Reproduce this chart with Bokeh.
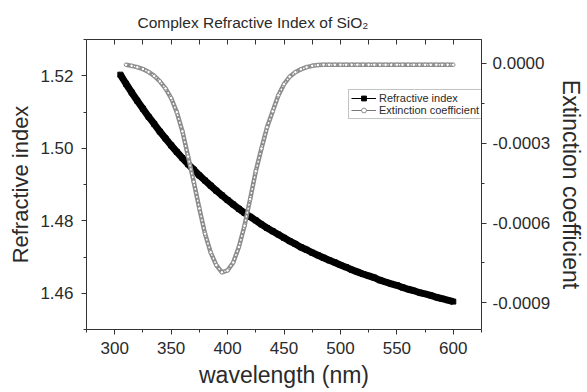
from bokeh.plotting import figure
from bokeh.models import (Range1d, LinearAxis, SingleIntervalTicker, PrintfTickFormatter,
                          Legend, LegendItem, CustomJSTickFormatter)
from bokeh.embed import file_html
from bokeh.resources import INLINE

# ---- data ----
wl_n = list(range(305, 601, 5))
n_vals = [1.5203, 1.5178, 1.5154, 1.5131, 1.5109, 1.5087, 1.5067, 1.5046, 1.5027, 1.5008,
          1.4990, 1.4973, 1.4956, 1.4941, 1.4925, 1.4911, 1.4897, 1.4883, 1.4870, 1.4857,
          1.4845, 1.4833, 1.4822, 1.4811, 1.4801, 1.4790, 1.4780, 1.4771, 1.4762, 1.4753,
          1.4744, 1.4736, 1.4727, 1.4720, 1.4712, 1.4705, 1.4698, 1.4691, 1.4685, 1.4678,
          1.4672, 1.4665, 1.4659, 1.4653, 1.4648, 1.4643, 1.4636, 1.4631, 1.4626, 1.4622,
          1.4616, 1.4611, 1.4607, 1.4602, 1.4598, 1.4594, 1.4589, 1.4585, 1.4581, 1.4577]

wl_k = list(range(310, 601, 5))
k_vals = [-5e-6, -9e-6, -14e-6, -21e-6, -32e-6, -47e-6, -67e-6, -94e-6, -130e-6, -183e-6,
          -255e-6, -350e-6, -445e-6, -545e-6, -640e-6, -710e-6, -758e-6, -785e-6, -778e-6, -748e-6,
          -690e-6, -610e-6, -510e-6, -405e-6, -320e-6, -240e-6, -180e-6, -120e-6, -78e-6, -50e-6,
          -33e-6, -22e-6, -14e-6, -9e-6, -6e-6, -5e-6,
          -5e-6, -5e-6, -5e-6, -5e-6, -5e-6, -5e-6, -5e-6, -5e-6, -5e-6, -5e-6, -5e-6, -5e-6,
          -5e-6, -5e-6, -5e-6, -5e-6, -5e-6, -5e-6, -5e-6, -5e-6, -5e-6, -5e-6, -5e-6]

title_text = "Complex Refractive Index of SiO\u2082"
x_label = "wavelength (nm)"
y_label = "Refractive index"
y2_label = "Extinction coefficient"
series_names = ["Refractive index", "Extinction coefficient"]

FONT = "Liberation Sans"
TXT = "#2a2a2a"
AX = "#333333"

p = figure(width=587, height=392, output_backend="svg", toolbar_location=None,
           x_range=Range1d(275, 625), y_range=Range1d(1.45, 1.53),
           min_border_left=86, min_border_right=106, min_border_top=39, min_border_bottom=63)
p.extra_y_ranges = {"k": Range1d(-0.001, 0.00009)}
p.background_fill_color = "white"
p.border_fill_color = "white"
p.outline_line_color = None
p.xgrid.visible = False
p.ygrid.visible = False

# title
p.title.text = title_text
p.title.text_font = FONT
p.title.text_font_size = "15.5px"
p.title.text_font_style = "normal"
p.title.text_color = TXT
p.title.align = "left"
p.title.offset = 51
p.title.standoff = 17


def style_axis(ax, label_size="23px"):
    ax.axis_line_color = AX
    ax.axis_line_width = 1
    ax.major_tick_line_color = AX
    ax.minor_tick_line_color = AX
    ax.major_label_text_font = FONT
    ax.major_label_text_font_size = "17px"
    ax.major_label_text_color = TXT
    ax.axis_label_text_font = FONT
    ax.axis_label_text_font_size = label_size
    ax.axis_label_text_font_style = "normal"
    ax.axis_label_text_color = TXT
    ax.major_tick_out = 5
    ax.major_tick_in = 0
    ax.minor_tick_out = 3
    ax.minor_tick_in = 0
    ax.major_label_standoff = 4


# bottom axis
xa = p.xaxis[0]
xa.ticker = SingleIntervalTicker(interval=50, num_minor_ticks=2)
xa.axis_label = x_label
style_axis(xa)
xa.major_label_standoff = 7
xa.axis_label_standoff = 5

# left axis
ya = p.yaxis[0]
ya.ticker = SingleIntervalTicker(interval=0.02, num_minor_ticks=2)
ya.formatter = PrintfTickFormatter(format="%.2f")
ya.axis_label = y_label
style_axis(ya, label_size="22px")
ya.major_label_standoff = 8
ya.axis_label_standoff = 4

# right axis
ra = LinearAxis(y_range_name="k", axis_label=y2_label,
                ticker=SingleIntervalTicker(interval=0.0003, num_minor_ticks=2),
                formatter=PrintfTickFormatter(format="%.4f"))
style_axis(ra)
ra.major_label_standoff = 6
ra.axis_label_standoff = 5
p.add_layout(ra, "right")

# top axis (ticks only, pointing inwards)
ta = LinearAxis(ticker=SingleIntervalTicker(interval=25, num_minor_ticks=0),
                formatter=CustomJSTickFormatter(code="return ''"))
style_axis(ta)
ta.major_tick_in = 5
ta.major_tick_out = 0
ta.major_label_standoff = 0
p.add_layout(ta, "above")

# refractive index
n_thin = p.line(wl_n, n_vals, line_color="black", line_width=1)
p.line(wl_n, n_vals, line_color="black", line_width=7)
n_sq = p.scatter(wl_n, n_vals, marker="square", size=5, fill_color="black", line_color="black")

# extinction coefficient
k_thin = p.line(wl_k, k_vals, line_color="#777777", line_width=1, y_range_name="k")
p.line(wl_k, k_vals, line_color="#8c8c8c", line_width=4.5, y_range_name="k")
p.line(wl_k, k_vals, line_color="white", line_width=1.4, line_dash="2 2", y_range_name="k")
k_c = p.scatter(wl_k, k_vals, marker="circle", size=3.5, fill_color="white",
                line_color="#8c8c8c", line_width=1, y_range_name="k")

legend = Legend(items=[LegendItem(label=series_names[0], renderers=[n_thin, n_sq]),
                       LegendItem(label=series_names[1], renderers=[k_thin, k_c])],
                location=(262, 210))
legend.label_text_font = FONT
legend.label_text_font_size = "11px"
legend.label_text_color = TXT
legend.glyph_width = 25
legend.glyph_height = 12
legend.label_height = 12
legend.label_standoff = 3
legend.padding = 2
legend.spacing = 0
legend.margin = 0
legend.border_line_color = "#888888"
legend.border_line_width = 1
legend.background_fill_color = "white"
legend.background_fill_alpha = 1
p.add_layout(legend, "center")

open("out.html", "w").write(file_html(p, INLINE))
